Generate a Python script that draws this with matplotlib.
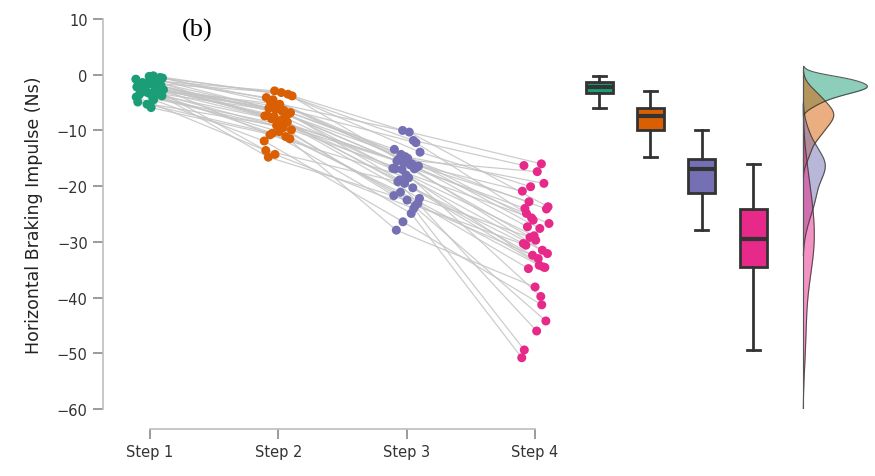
import matplotlib
matplotlib.use("Agg")
import matplotlib.pyplot as plt
import numpy as np

# values per participant, same order in every step
steps = ["Step 1", "Step 2", "Step 3", "Step 4"]
step1 = [-0.8, -0.2, -1.4, -0.5, -0.3, -1.8, -1.0, -2.1, -0.6, -1.2, -2.5, -0.9,
         -1.5, -2.2, -1.1, -3.0, -1.9, -1.6, -3.6, -2.4, -2.0, -2.7, -4.2, -2.2,
         -2.3, -3.3, -4.9, -2.6, -2.8, -3.8, -5.9, -3.1, -3.4, -5.3, -4.0, -4.5]
step2 = [-2.9, -3.8, -3.2, -4.9, -3.5, -5.7, -4.1, -6.4, -4.5, -6.8, -5.3, -6.0,
         -7.2, -6.2, -7.4, -6.6, -7.9, -7.0, -8.8, -7.3, -7.7, -7.5, -9.9, -8.2,
         -10.8, -8.5, -9.1, -13.6, -9.5, -10.5, -11.5, -10.2, -14.8, -11.1, -14.3, -11.9]
step3 = [-11.8, -10.0, -13.9, -10.3, -15.2, -12.2, -14.7, -13.4, -16.0, -14.3, -16.4, -15.0,
         -15.5, -16.9, -15.8, -16.8, -16.2, -18.9, -16.6, -18.0, -16.9, -20.3, -17.0, -22.2,
         -18.5, -19.2, -23.5, -19.5, -21.7, -24.9, -21.1, -23.1, -22.5, -27.9, -24.0, -26.4]
step4 = [-16.3, -16.0, -20.1, -23.7, -17.4, -24.9, -19.5, -26.1, -20.9, -27.6, -22.8, -24.1,
         -29.7, -24.0, -31.5, -25.7, -26.7, -33.0, -27.3, -34.6, -28.9, -30.3, -39.8, -29.2,
         -32.1, -46.0, -30.6, -34.5, -32.4, -50.8, -34.2, -34.8, -44.2, -38.1, -49.4, -41.3]

colors = ["#1b9e77", "#d95f02", "#7570b3", "#e7298a"]


def kde(values, grid):
    values = np.asarray(values)
    bw = 1.06 * values.std(ddof=1) * len(values) ** (-1 / 5)
    z = (grid[:, None] - values[None, :]) / bw
    return np.exp(-0.5 * z ** 2).sum(axis=1) / (len(values) * bw * np.sqrt(2 * np.pi))


data = np.array([step1, step2, step3, step4])
n_steps, n_people = data.shape

fig = plt.figure(figsize=(8.75, 4.77), dpi=100)
ax = fig.add_axes([103 / 875, 1 - 410 / 477, 1 - 103 / 875, 390 / 477])

# deterministic horizontal jitter (golden ratio sequence), different per step
idx = np.arange(n_people)
xs = np.array([s + ((idx * 0.618034 + 0.37 * s) % 1.0 - 0.5) * 0.22 for s in range(n_steps)])

for i in range(n_people):
    ax.plot(xs[:, i], data[:, i], color="#c4c4c4", lw=0.9, alpha=0.85, zorder=1)
for s in range(n_steps):
    ax.scatter(xs[s], data[s], s=42, color=colors[s], edgecolors="none", zorder=3,
               clip_on=False)

# boxplots
box_pos = 3.5 + 0.4 * np.arange(n_steps)
bp = ax.boxplot(list(data), positions=box_pos, widths=0.21, patch_artist=True,
                showfliers=False, whis=1.5, manage_ticks=False,
                boxprops=dict(edgecolor="#333333", linewidth=2),
                whiskerprops=dict(color="#333333", linewidth=2),
                capprops=dict(color="#333333", linewidth=2),
                medianprops=dict(color="#333333", linewidth=3))
for patch, c in zip(bp["boxes"], colors):
    patch.set_facecolor(c)
for cap in bp["caps"]:
    x0, x1 = cap.get_xdata()
    m = (x0 + x1) / 2
    cap.set_xdata([m - 0.05, m + 0.05])

# half densities
base = 5.09
grid = np.linspace(-60, 2, 600)
dens = [kde(v, grid) for v in data]
scale = 0.5 / max(d.max() for d in dens)
for d, c in zip(dens, colors):
    keep = d > d.max() * 0.01
    g = grid[keep]
    dd = d[keep] * scale
    ax.fill_betweenx(g, base, base + dd, color=c, alpha=0.5, lw=0)
    ax.plot(base + dd, g, color="#333333", lw=0.8, alpha=0.8)
    ax.plot([base, base], [g.min(), g.max()], color="#555555", lw=0.8)

ax.set_xlim(-0.366, 5.65)
ax.set_ylim(-60, 10)
ax.set_yticks(np.arange(-60, 11, 10))
ax.set_xticks(range(n_steps))
ax.set_xticklabels(steps)
for side in ["top", "right"]:
    ax.spines[side].set_visible(False)
ax.spines["bottom"].set_position(("outward", 14.4))
ax.spines["bottom"].set_bounds(0, 3)
for side in ["left", "bottom"]:
    ax.spines[side].set_color("#bdbdbd")
    ax.spines[side].set_linewidth(1.2)
ax.tick_params(axis="both", colors="#8a8a8a", length=7, width=1.2, labelsize=10.5,
               labelcolor="#333333", pad=4)
ax.set_ylabel("Horizontal Braking Impulse (Ns)", fontsize=12.5, color="#222222",
              labelpad=10)
ax.text(0.37, 8.2, "(b)", fontsize=19, family="Liberation Serif", ha="center",
        va="center", color="black")

fig.savefig("out.png", dpi=100)
